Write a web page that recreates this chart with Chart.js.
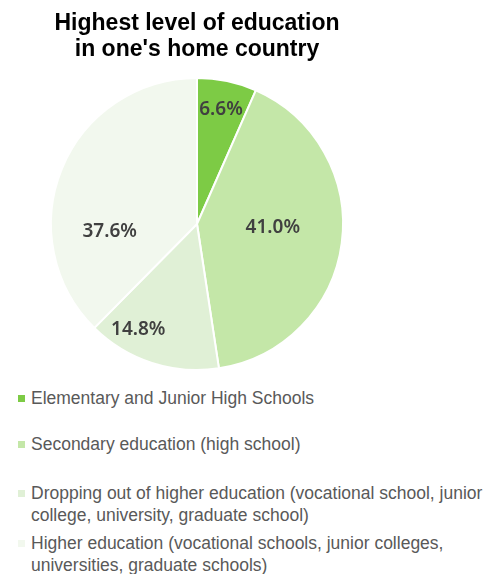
<!DOCTYPE html>
<html>
<head>
<meta charset="utf-8">
<script src="https://cdn.jsdelivr.net/npm/chart.js@4/dist/chart.umd.min.js"></script>
<style>
  html, body { margin: 0; padding: 0; background: #fff; }
  body { width: 503px; height: 574px; position: relative; overflow: hidden; }
  #wrap { position: absolute; left: 0; top: 0; width: 394px; height: 375px; }
  .legend-item {
    position: absolute; left: 31px; width: 470px;
    font-family: "Liberation Sans", Arial, sans-serif; font-size: 17.5px;
    line-height: 22px; color: #595959;
  }
  .legend-item .box {
    position: absolute; left: -13px; top: 8px; width: 7px; height: 7px;
  }
</style>
</head>
<body>
<div id="wrap"><canvas id="pie"></canvas></div>
<div id="legend"></div>
<script>
// Chart data
const categories = [
    'Elementary and Junior High Schools',
    'Secondary education (high school)',
    'Dropping out of higher education (vocational school, junior college, university, graduate school)',
    'Higher education (vocational schools, junior colleges, universities, graduate schools)'
];
const shares = [6.6, 41.0, 14.8, 37.6];
const sliceColors = ['#7dcb45', '#c4e7a8', '#e0f0d6', '#f2f8ee'];

// label placement per slice: [angle shift in degrees, fraction of radius]
const labelPlace = [[0, 0.8], [-5, 0.52], [11, 0.83], [-27, 0.6]];
// legend item tops (px)
const legendTops = [387, 433, 482, 532];

// Draws the percentage labels on the slices
const sliceLabels = {
    id: 'sliceLabels',
    afterDatasetsDraw(chart) {
        const ctx = chart.ctx;
        const meta = chart.getDatasetMeta(0);
        ctx.save();
        ctx.font = '600 19px "Noto Sans", sans-serif';
        ctx.fillStyle = '#404040';
        ctx.textAlign = 'center';
        ctx.textBaseline = 'middle';
        meta.data.forEach((arc, i) => {
            const mid = (arc.startAngle + arc.endAngle) / 2 + labelPlace[i][0] * Math.PI / 180;
            const r = arc.outerRadius * labelPlace[i][1];
            const x = arc.x + Math.cos(mid) * r;
            const y = arc.y + Math.sin(mid) * r;
            ctx.fillText(shares[i].toFixed(1) + '%', x, y);
        });
        ctx.restore();
    }
};

const ctx = document.getElementById('pie').getContext('2d');
const chart = new Chart(ctx, {
    type: 'pie',
    data: {
        labels: categories,
        datasets: [{
            data: shares,
            backgroundColor: sliceColors,
            borderColor: '#ffffff',
            borderWidth: 2
        }]
    },
    options: {
        responsive: true,
        maintainAspectRatio: false,
        animation: false,
        layout: { padding: { bottom: 4 } },
        plugins: {
            legend: { display: false },
            tooltip: { enabled: false },
            title: {
                display: true,
                text: ['Highest level of education', "in one's home country"],
                color: '#000000',
                font: { family: '"Liberation Sans", Arial, sans-serif', size: 23, weight: 'bold', lineHeight: 1.13 },
                padding: { top: 11, bottom: 14 }
            }
        }
    },
    plugins: [sliceLabels]
});

// Legend built from the same arrays
const legendEl = document.getElementById('legend');
categories.forEach((name, i) => {
    const item = document.createElement('div');
    item.className = 'legend-item';
    item.style.top = legendTops[i] + 'px';
    item.innerHTML = `<span class="box" style="background:${sliceColors[i]}"></span>${name}`;
    legendEl.appendChild(item);
});
</script>
</body>
</html>
